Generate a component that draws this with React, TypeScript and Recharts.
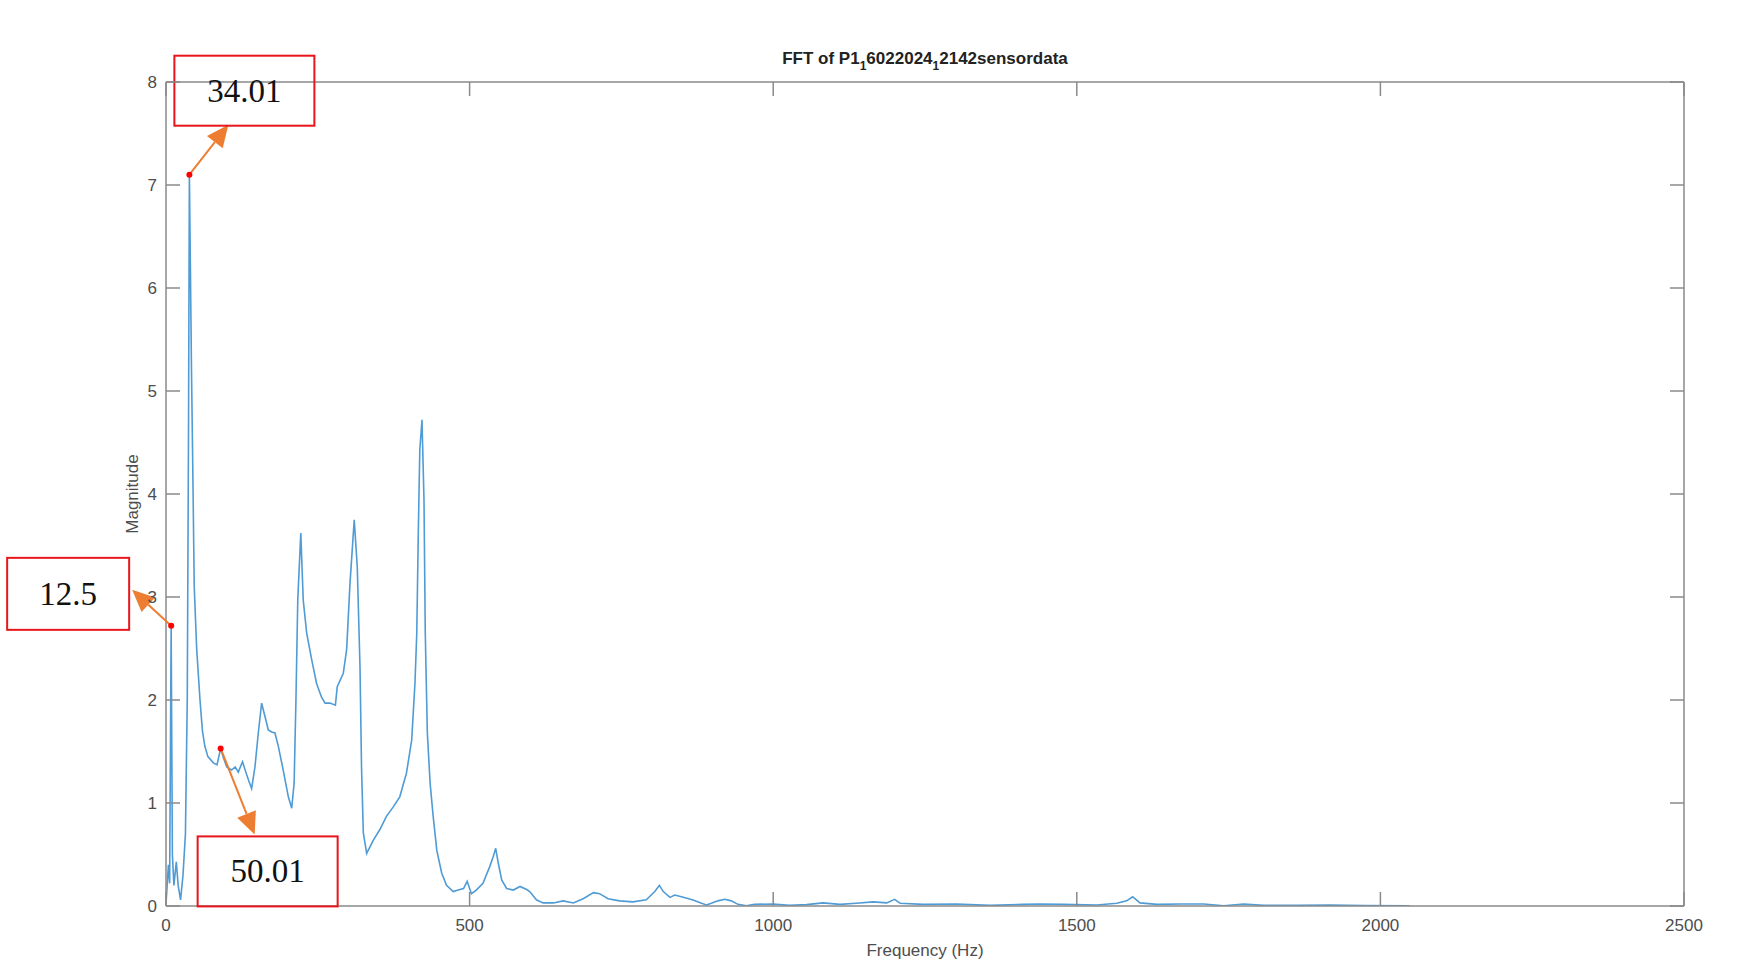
import { LineChart, Line, XAxis, YAxis, ReferenceDot, ReferenceLine, Label } from 'recharts';

// spectrum (Hz / magnitude), same order in both arrays
const FREQ_HZ = [
    0, 4, 6, 8.5, 10.5, 13, 17, 20, 24, 28,
    32, 35, 37, 38.5, 40, 42, 44, 46.5, 50.5, 56,
    60, 64, 69, 78, 84, 90, 94, 100, 108, 114,
    119, 126, 132, 136, 141, 146.5, 152, 157.5, 163, 168.5,
    174, 179.5, 185, 193, 201.5, 207, 211, 214, 217, 222,
    226, 231.7, 240, 248, 256, 262, 270, 279, 282, 292,
    297.5, 303, 310, 315, 319.5, 322, 325, 330.5, 341.5, 352,
    363, 374, 385, 396, 404.6, 410, 413, 415.5, 418, 421.6,
    424.9, 427, 430.4, 435, 440, 446, 454, 462, 473, 481,
    490, 496, 503, 511, 522, 533, 539, 543, 547.4, 553,
    561, 572, 583, 594, 599, 610, 621, 638, 654, 671,
    687, 704, 714, 728, 747, 769, 791, 805, 812.5, 819,
    830, 838, 852, 868, 882, 890, 898, 909, 920, 931,
    942, 956, 969, 1000, 1027, 1055, 1082, 1110, 1137, 1165,
    1187, 1200, 1209, 1247, 1302, 1357, 1412, 1439, 1478, 1533,
    1566, 1582, 1592, 1604, 1632, 1670, 1709, 1742, 1775, 1808,
    1862, 1917, 1972, 2048,
];

const MAGNITUDE = [
    0.02, 0.4, 0.22, 2.72, 0.5, 0.2, 0.43, 0.2, 0.06, 0.3,
    0.7, 2.0, 4.5, 7.1, 6.3, 5.2, 4.3, 3.1, 2.5, 2.0,
    1.7, 1.55, 1.45, 1.39, 1.37, 1.53, 1.45, 1.35, 1.32, 1.35,
    1.3, 1.4, 1.29, 1.22, 1.14, 1.35, 1.68, 1.97, 1.84, 1.71,
    1.69, 1.68, 1.55, 1.32, 1.06, 0.95, 1.19, 2.0, 2.97, 3.62,
    2.97, 2.65, 2.39, 2.16, 2.03, 1.97, 1.97, 1.95, 2.13, 2.26,
    2.49, 3.13, 3.75, 3.29, 2.32, 1.35, 0.71, 0.51, 0.64, 0.74,
    0.87, 0.96, 1.06, 1.29, 1.61, 2.16, 2.65, 3.62, 4.43, 4.72,
    3.94, 2.65, 1.68, 1.19, 0.87, 0.54, 0.32, 0.2, 0.14, 0.155,
    0.17, 0.24, 0.12, 0.155, 0.22, 0.38, 0.48, 0.56, 0.41, 0.25,
    0.17, 0.155, 0.19, 0.16, 0.14, 0.06, 0.03, 0.03, 0.05, 0.03,
    0.07, 0.13, 0.12, 0.07, 0.05, 0.04, 0.06, 0.14, 0.2, 0.14,
    0.084, 0.107, 0.084, 0.058, 0.026, 0.01, 0.026, 0.05, 0.065, 0.05,
    0.016, 0.003, 0.016, 0.02, 0.006, 0.013, 0.03, 0.016, 0.026, 0.04,
    0.03, 0.065, 0.026, 0.016, 0.02, 0.006, 0.016, 0.02, 0.016, 0.01,
    0.026, 0.05, 0.09, 0.03, 0.016, 0.02, 0.02, 0.003, 0.02, 0.006,
    0.006, 0.01, 0.004, 0.003,
];

const X_TICKS = [0, 500, 1000, 1500, 2000, 2500];
const Y_TICKS = [0, 1, 2, 3, 4, 5, 6, 7, 8];

// hand-drawn callouts on the figure
const CALLOUT_LABELS = ['34.01', '12.5', '50.01'];
const CALLOUT_FREQS = [38.5, 8.5, 90];
const CALLOUT_MAGS = [7.1, 2.72, 1.53];

const data = FREQ_HZ.map((f, i) => ({ f, mag: MAGNITUDE[i] }));

const W = 1741;
const H = 976;
const AXIS = '#8a8a8a';
const TICK_TEXT = '#4d4d4d';
const LINE = '#4f9bd6';
const ORANGE = '#ed7d31';
const RED = '#e8151b';
const TICK_LEN = 14;
const SANS = "'Liberation Sans', Arial, sans-serif";
const SERIF = "'Liberation Serif', 'Times New Roman', serif";

// arrow tip and box, relative to each red dot (px)
const CALLOUT_LAYOUT = [
    { tip: [39, -50], box: [-15, -119, 140, 70] },
    { tip: [-39, -36], box: [-164, -68, 122, 72] },
    { tip: [34, 86], box: [-23, 88, 140, 70] },
];

const BottomTick = ({ x, y, payload }: any) => (
    <g>
        <line x1={x} x2={x} y1={y - 12} y2={y - 12 - TICK_LEN} stroke={AXIS} strokeWidth={1.5} />
        <text x={x} y={y + 13} textAnchor="middle" fontFamily={SANS} fontSize={17} fill={TICK_TEXT}>
            {payload.value}
        </text>
    </g>
);

const LeftTick = ({ x, y, payload }: any) => (
    <g>
        <line x1={x + 9} x2={x + 9 + TICK_LEN} y1={y} y2={y} stroke={AXIS} strokeWidth={1.5} />
        <text x={x} y={y + 6} textAnchor="end" fontFamily={SANS} fontSize={17} fill={TICK_TEXT}>
            {payload.value}
        </text>
    </g>
);

// MATLAB box: inward ticks on the top and right edges
const TopTickShape = ({ x1, y1, y2 }: any) => {
    const top = Math.min(y1, y2);
    return <line x1={x1} x2={x1} y1={top} y2={top + TICK_LEN} stroke={AXIS} strokeWidth={1.5} />;
};

const RightTickShape = ({ x1, x2, y1 }: any) => {
    const right = Math.max(x1, x2);
    return <line x1={right} x2={right - TICK_LEN} y1={y1} y2={y1} stroke={AXIS} strokeWidth={1.5} />;
};

const makeCallout = (i: number) => ({ cx, cy }: any) => {
    const { tip, box } = CALLOUT_LAYOUT[i];
    const tx = cx + tip[0];
    const ty = cy + tip[1];
    const len = Math.hypot(tip[0], tip[1]);
    const ux = tip[0] / len;
    const uy = tip[1] / len;
    const headLen = 22;
    const headHalf = 10;
    const bx = tx - ux * headLen;
    const by = ty - uy * headLen;
    const head = `${tx},${ty} ${bx - uy * headHalf},${by + ux * headHalf} ${bx + uy * headHalf},${by - ux * headHalf}`;
    return (
        <g>
            <line x1={cx} y1={cy} x2={bx} y2={by} stroke={ORANGE} strokeWidth={2} />
            <polygon points={head} fill={ORANGE} />
            <rect x={cx + box[0]} y={cy + box[1]} width={box[2]} height={box[3]} fill="none" stroke={RED} strokeWidth={2} />
            <text
                x={cx + box[0] + box[2] / 2}
                y={cy + box[1] + box[3] / 2}
                textAnchor="middle"
                dominantBaseline="central"
                fontFamily={SERIF}
                fontSize={33}
                fill="#111"
            >
                {CALLOUT_LABELS[i]}
            </text>
            <circle cx={cx} cy={cy} r={3} fill="#ff0000" />
        </g>
    );
};

export default function App() {
    return (
        <div style={{ position: 'absolute', left: 0, top: 0, width: W, height: H, background: '#fff' }}>
            <div
                style={{
                    position: 'absolute',
                    left: 166,
                    width: 1518,
                    top: 49,
                    textAlign: 'center',
                    fontFamily: SANS,
                    fontWeight: 'bold',
                    fontSize: 17,
                    color: '#222',
                    lineHeight: '20px',
                }}
            >
                FFT of P1<span style={{ fontSize: 12, position: 'relative', top: 6 }}>1</span>6022024
                <span style={{ fontSize: 12, position: 'relative', top: 6 }}>1</span>2142sensordata
            </div>
            <LineChart width={W} height={H} data={data} margin={{ top: 82, right: 57, bottom: 30, left: 106 }}>
                <XAxis
                    dataKey="f"
                    type="number"
                    domain={[0, 2500]}
                    ticks={X_TICKS}
                    allowDataOverflow
                    height={40}
                    stroke={AXIS}
                    strokeWidth={1.5}
                    tickSize={0}
                    tickMargin={12}
                    tick={BottomTick}
                >
                    <Label value="Frequency (Hz)" position="bottom" offset={-2} fontFamily={SANS} fontSize={17} fill={TICK_TEXT} />
                </XAxis>
                <YAxis
                    type="number"
                    domain={[0, 8]}
                    ticks={Y_TICKS}
                    allowDataOverflow
                    width={60}
                    stroke={AXIS}
                    strokeWidth={1.5}
                    tickSize={0}
                    tickMargin={9}
                    tick={LeftTick}
                >
                    <Label value="Magnitude" position="center" angle={-90} dx={-4} fontFamily={SANS} fontSize={17} fill={TICK_TEXT} />
                </YAxis>
                <ReferenceLine y={8} stroke={AXIS} strokeWidth={1.5} />
                <ReferenceLine x={2500} stroke={AXIS} strokeWidth={1.5} />
                {X_TICKS.map((t) => (
                    <ReferenceLine key={`tx-${t}`} x={t} shape={TopTickShape} />
                ))}
                {Y_TICKS.map((t) => (
                    <ReferenceLine key={`ty-${t}`} y={t} shape={RightTickShape} />
                ))}
                <Line
                    type="linear"
                    dataKey="mag"
                    stroke={LINE}
                    strokeWidth={1.6}
                    dot={false}
                    isAnimationActive={false}
                />
                {CALLOUT_LABELS.map((label, i) => (
                    <ReferenceDot
                        key={label}
                        x={CALLOUT_FREQS[i]}
                        y={CALLOUT_MAGS[i]}
                        r={3}
                        shape={makeCallout(i)}
                    />
                ))}
            </LineChart>
        </div>
    );
}
